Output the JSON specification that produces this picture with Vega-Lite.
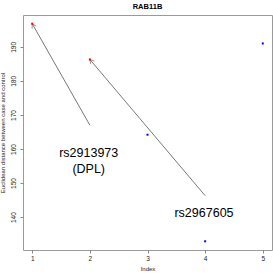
{
  "$schema": "https://vega.github.io/schema/vega-lite/v6.json",
  "width": 249,
  "height": 235,
  "autosize": {"type": "none"},
  "padding": {"left": 23, "top": 15, "right": 1, "bottom": 23},
  "background": "white",
  "title": {"text": "RAB11B", "fontSize": 7.5, "fontWeight": "bold", "font": "Liberation Sans", "anchor": "middle", "offset": 5, "color": "black"},
  "config": {
    "view": {"stroke": "#9a9a9a", "strokeWidth": 1},
    "axis": {"labelFont": "Liberation Sans", "titleFont": "Liberation Sans", "labelFontSize": 6.5, "titleFontSize": 6, "titleFontWeight": "normal", "labelColor": "#222", "titleColor": "#222", "tickColor": "#888", "tickSize": 3, "domain": false, "grid": false}
  },
  "datasets": {
    "points": [
      {"index": 1, "distance": 196.8, "highlight": "yes"},
      {"index": 2, "distance": 186.3, "highlight": "yes"},
      {"index": 3, "distance": 164.2, "highlight": "no"},
      {"index": 4, "distance": 132.9, "highlight": "no"},
      {"index": 5, "distance": 191.0, "highlight": "no"}
    ],
    "arrows": [
      {"id": "a1", "x0": 2, "y0": 167, "x1": 1, "y1": 196.8},
      {"id": "a2", "x0": 4, "y0": 146.3, "x1": 2, "y1": 186.3}
    ],
    "labels": [
      {"label": "rs2913973\n(DPL)", "x": 1.98, "y": 158.9},
      {"label": "rs2967605", "x": 3.98, "y": 141.1}
    ]
  },
  "layer": [
    {
      "data": {"name": "arrows"},
      "mark": {"type": "rule", "color": "#555", "strokeWidth": 0.8},
      "encoding": {
        "x": {"field": "x0", "type": "quantitative", "scale": {"domain": [0.84, 5.16], "nice": false, "zero": false}, "axis": {"values": [1, 2, 3, 4, 5], "format": "d", "title": "Index", "labelPadding": 2, "titlePadding": 4}},
        "y": {"field": "y0", "type": "quantitative", "scale": {"domain": [130.34, 199.36], "nice": false, "zero": false}, "axis": {"values": [140, 150, 160, 170, 180, 190], "format": "d", "title": "Euclidean distance between case and control", "labelAngle": -90, "labelAlign": "center", "labelBaseline": "bottom", "labelPadding": 4, "titlePadding": 5}},
        "x2": {"field": "x1"},
        "y2": {"field": "y1"}
      }
    },
    {
      "data": {"name": "arrows"},
      "transform": [{"filter": "datum.id === 'a1'"}],
      "mark": {"type": "point", "shape": "M-0.5,0.866L0,0L0.5,0.866", "filled": false, "stroke": "#555", "strokeWidth": 0.8, "size": 90, "angle": 331},
      "encoding": {
        "x": {"field": "x1", "type": "quantitative"},
        "y": {"field": "y1", "type": "quantitative"}
      }
    },
    {
      "data": {"name": "arrows"},
      "transform": [{"filter": "datum.id === 'a2'"}],
      "mark": {"type": "point", "shape": "M-0.5,0.866L0,0L0.5,0.866", "filled": false, "stroke": "#555", "strokeWidth": 0.8, "size": 90, "angle": 320},
      "encoding": {
        "x": {"field": "x1", "type": "quantitative"},
        "y": {"field": "y1", "type": "quantitative"}
      }
    },
    {
      "data": {"name": "points"},
      "mark": {"type": "point", "shape": "square", "filled": true, "size": 4, "opacity": 1},
      "encoding": {
        "x": {"field": "index", "type": "quantitative"},
        "y": {"field": "distance", "type": "quantitative"},
        "color": {"field": "highlight", "type": "nominal", "scale": {"domain": ["yes", "no"], "range": ["#ff0000", "#0000ff"]}, "legend": null}
      }
    },
    {
      "data": {"name": "labels"},
      "mark": {"type": "text", "font": "Liberation Sans", "fontSize": 12.5, "lineBreak": "\n", "lineHeight": 16, "align": "center", "baseline": "middle", "color": "black"},
      "encoding": {
        "x": {"field": "x", "type": "quantitative"},
        "y": {"field": "y", "type": "quantitative"},
        "text": {"field": "label"}
      }
    }
  ]
}
